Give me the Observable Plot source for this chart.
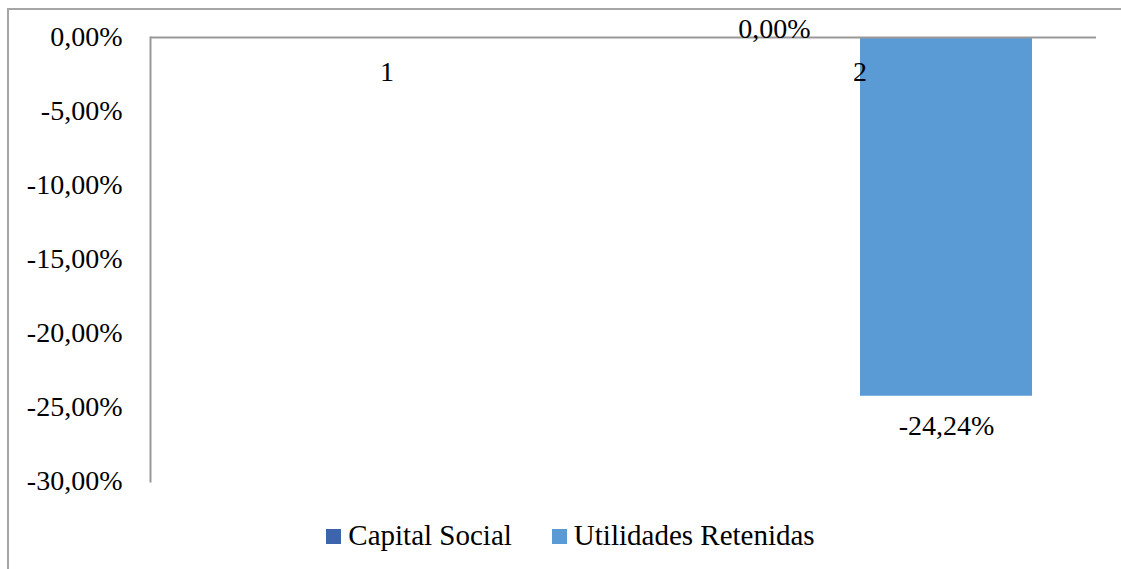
<!DOCTYPE html>
<html>
<head>
<meta charset="utf-8">
<script src="https://cdn.jsdelivr.net/npm/d3@7"></script>
<script src="https://cdn.jsdelivr.net/npm/@observablehq/plot@0.6"></script>
<style>
  html, body { margin: 0; padding: 0; background: #fff; }
  #wrap { position: relative; width: 1121px; height: 569px; overflow: hidden; font-family: "Liberation Serif", "Times New Roman", serif; }
  #border { position: absolute; left: 7px; top: 8px; width: 1300px; height: 700px; border-left: 2px solid #a6a6a6; border-top: 2px solid #a6a6a6; pointer-events: none; }
  #legend { display: flex; justify-content: center; align-items: center; margin-top: 15px; font-size: 29px; line-height: 30px; color: #000; padding-left: 20px; }
  .item { display: flex; align-items: center; margin: 0 20px; }
  .sw { width: 15px; height: 15px; margin-right: 7px; display: inline-block; position: relative; top: 1px; }
</style>
</head>
<body>
<div id="wrap">
  <div id="chart"></div>
  <div id="legend"></div>
  <div id="border"></div>
</div>
<script>
const categories = ["1", "2"];
const seriesNames = ["Capital Social", "Utilidades Retenidas"];
const capitalSocial = [null, 0];
const utilidadesRetenidas = [null, -24.24];
const yTicks = [0, -5, -10, -15, -20, -25, -30];
const colors = ["#3d65ae", "#5b9bd5"];

const rows = [];
categories.forEach((c, i) => {
  rows.push({category: c, series: seriesNames[0], value: capitalSocial[i]});
  rows.push({category: c, series: seriesNames[1], value: utilidadesRetenidas[i]});
});
const valued = rows.filter(d => d.value != null);
const fmt = v => v.toFixed(2).replace(".", ",") + "%";

const chart = Plot.plot({
  width: 1121,
  height: 505,
  marginLeft: 150,
  marginRight: 25,
  marginTop: 37,
  marginBottom: 24,
  style: {fontFamily: "'Liberation Serif', 'Times New Roman', serif", fontSize: "28px", color: "#000", background: "transparent"},
  fx: {domain: categories, padding: 0, axis: null},
  x: {domain: seriesNames, paddingInner: 0, paddingOuter: 0.375, axis: null},
  y: {domain: [-30, 0], label: null},
  color: {domain: seriesNames, range: colors},
  marks: [
    Plot.barY(valued, {fx: "category", x: "series", y: "value", fill: "series"}),
    Plot.ruleY([0], {stroke: "#999", strokeWidth: 2}),
    Plot.frame({anchor: "left", facetAnchor: "left", stroke: "#999", strokeWidth: 2}),
    Plot.axisY({ticks: yTicks, tickSize: 0, tickPadding: 28, tickFormat: fmt, fontSize: 28, anchor: "left", label: null, fontVariant: "normal"}),
    Plot.text(categories, {fx: d => d, text: d => d, frameAnchor: "top", lineAnchor: "middle", dy: 35, fontSize: 28, fill: "#000"}),
    Plot.text(valued.filter(d => d.value >= 0), {fx: "category", x: "series", y: "value", text: d => fmt(d.value), dy: -8, fontSize: 28, fill: "#000"}),
    Plot.text(valued.filter(d => d.value < 0), {fx: "category", x: "series", y: "value", text: d => fmt(d.value), dy: 30, fontSize: 28, fill: "#000"})
  ]
});
document.getElementById("chart").appendChild(chart);

const legend = document.getElementById("legend");
seriesNames.forEach((s, i) => {
  const item = document.createElement("div");
  item.className = "item";
  const sw = document.createElement("span");
  sw.className = "sw";
  sw.style.background = colors[i];
  const t = document.createElement("span");
  t.textContent = s;
  item.appendChild(sw);
  item.appendChild(t);
  legend.appendChild(item);
});
</script>
</body>
</html>
